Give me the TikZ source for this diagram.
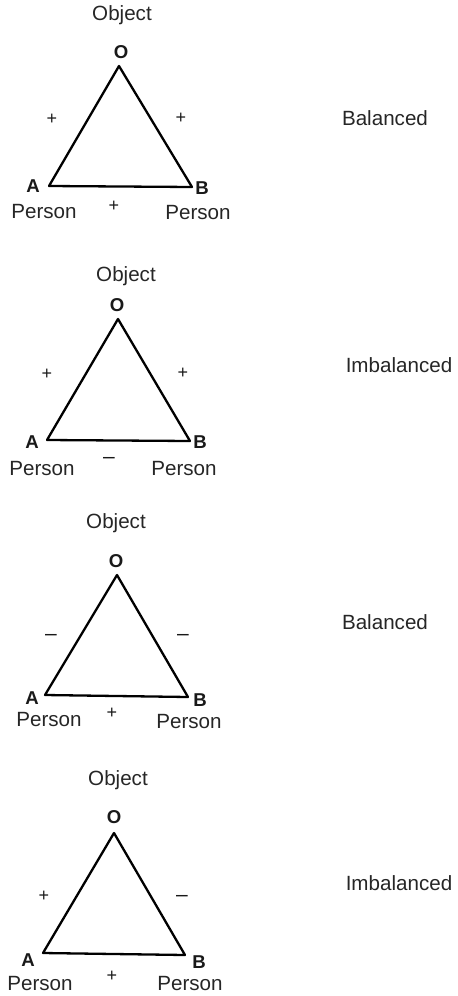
\documentclass[tikz,border=0pt]{standalone}
\usepackage{fontspec}
\setmainfont{Liberation Sans}
\begin{document}
\begin{tikzpicture}[x=0.5pt,y=-0.5pt,
  tri/.style={line width=1.15pt, line join=round, draw=black},
  word/.style={font=\fontsize{10.3}{12}\selectfont, text=black!85, inner sep=0pt},
  vlab/.style={font=\fontsize{9.3}{10}\selectfont\bfseries, text=black!90, inner sep=0pt},
  plussign/.style={font=\fontsize{9}{10}\selectfont, text=black!90, inner sep=0pt},
  minussign/.style={font=\fontsize{10.5}{10}\selectfont, text=black!90, inner sep=0pt}]
\useasboundingbox (0,0) rectangle (457,996);

% ---------- Panel 1 ----------
\coordinate (o1) at (119,66);
\coordinate (a1) at (49,186);
\coordinate (b1) at (192,187);
\draw[tri] (o1) -- (a1) -- (b1) -- cycle;
\node[word] (obj1) at (122,15) {Object};
\node[vlab] (ol1) at (121,52) {O};
\node[vlab] (al1) at (33,186) {A};
\node[vlab] (bl1) at (202,188) {B};
\node[plussign] (sl1) at (52,119) {+};
\node[plussign] (sr1) at (181,118) {+};
\node[plussign] (sb1) at (114,206) {+};
\node[word] (pa1) at (44,212) {Person};
\node[word] (pb1) at (198,213) {Person};
\node[word] (v1) at (385,118) {Balanced};

% ---------- Panel 2 ----------
\coordinate (o2) at (118,319);
\coordinate (a2) at (47,440);
\coordinate (b2) at (190,441);
\draw[tri] (o2) -- (a2) -- (b2) -- cycle;
\node[word] (obj2) at (126,276) {Object};
\node[vlab] (ol2) at (117,305) {O};
\node[vlab] (al2) at (32,442) {A};
\node[vlab] (bl2) at (200,442) {B};
\node[plussign] (sl2) at (47,374) {+};
\node[plussign] (sr2) at (183,373) {+};
\node[minussign] (sb2) at (109,460) {\textendash};
\node[word] (pa2) at (42,469) {Person};
\node[word] (pb2) at (184,469) {Person};
\node[word] (v2) at (399,365) {Imbalanced};

% ---------- Panel 3 ----------
\coordinate (o3) at (117,575);
\coordinate (a3) at (45,695);
\coordinate (b3) at (188,697);
\draw[tri] (o3) -- (a3) -- (b3) -- cycle;
\node[word] (obj3) at (116,523) {Object};
\node[vlab] (ol3) at (116,561) {O};
\node[vlab] (al3) at (32,698) {A};
\node[vlab] (bl3) at (200,700) {B};
\node[minussign] (sl3) at (51,637) {\textendash};
\node[minussign] (sr3) at (183,637) {\textendash};
\node[plussign] (sb3) at (112,713) {+};
\node[word] (pa3) at (49,720) {Person};
\node[word] (pb3) at (189,722) {Person};
\node[word] (v3) at (385,622) {Balanced};

% ---------- Panel 4 ----------
\coordinate (o4) at (114,833);
\coordinate (a4) at (43,953);
\coordinate (b4) at (185,955);
\draw[tri] (o4) -- (a4) -- (b4) -- cycle;
\node[word] (obj4) at (118,780) {Object};
\node[vlab] (ol4) at (114,817) {O};
\node[vlab] (al4) at (28,960) {A};
\node[vlab] (bl4) at (199,962) {B};
\node[plussign] (sl4) at (44,896) {+};
\node[minussign] (sr4) at (182,898) {\textendash};
\node[plussign] (sb4) at (112,976) {+};
\node[word] (pa4) at (40,984) {Person};
\node[word] (pb4) at (190,984) {Person};
\node[word] (v4) at (399,883) {Imbalanced};
\end{tikzpicture}
\end{document}
